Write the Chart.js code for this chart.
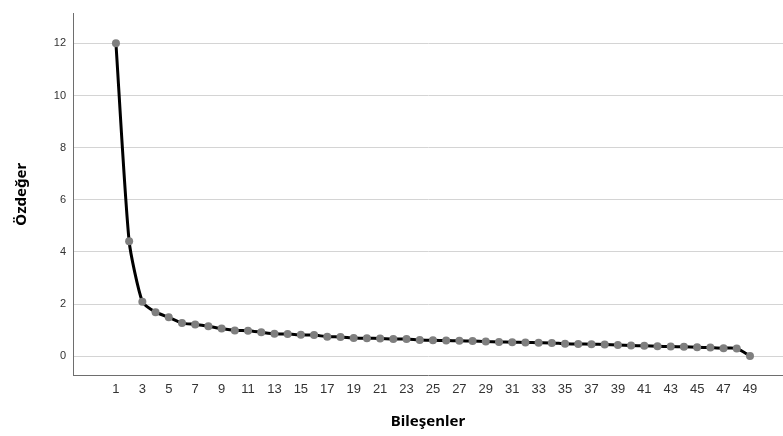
<!DOCTYPE html>
<html>
<head>
<meta charset="utf-8">
<script src="https://cdn.jsdelivr.net/npm/chart.js@4/dist/chart.umd.min.js"></script>
<style>
  html, body { margin: 0; padding: 0; background: #fff; }
  #wrap { width: 783px; height: 436px; position: relative; }
</style>
</head>
<body>
<div id="wrap"><canvas id="myChart"></canvas></div>
<script>
// scree plot data
var components = [];
for (var i = 1; i <= 49; i++) {
    components.push(i);
}

var eigenValues = [
    12.0, 4.41, 2.09, 1.69, 1.49, 1.27, 1.22, 1.15, 1.06, 0.99,
    0.98, 0.92, 0.86, 0.85, 0.82, 0.81, 0.75, 0.74, 0.70, 0.69,
    0.68, 0.66, 0.66, 0.62, 0.61, 0.60, 0.59, 0.58, 0.56, 0.55,
    0.54, 0.53, 0.52, 0.51, 0.48, 0.47, 0.46, 0.45, 0.43, 0.41,
    0.40, 0.38, 0.37, 0.36, 0.34, 0.33, 0.31, 0.30, 0.01
];

var xTicks = [];
for (var i = 1; i <= 49; i += 2) {
    xTicks.push(i);
}
var yTicks = [0, 2, 4, 6, 8, 10, 12];

var xTitle = 'Bileşenler';
var yTitle = 'Özdeğer';

function chartInit() {
    var points = components.map(function (c, idx) {
        return { x: c, y: eigenValues[idx] };
    });

    const config = {
        type: 'line',
        data: {
            datasets: [{
                label: yTitle,
                data: points,
                borderColor: '#000000',
                borderWidth: 3,
                pointRadius: 4,
                pointBorderWidth: 0,
                pointBackgroundColor: '#7f7f7f',
                pointBorderColor: '#7f7f7f',
                tension: 0.2,
                fill: false
            }]
        },
        options: {
            responsive: false,
            animation: false,
            maintainAspectRatio: false,
            layout: { autoPadding: false, padding: { top: 10, right: 0, left: 0, bottom: 0 } },
            plugins: {
                legend: { display: false },
                tooltip: { enabled: false }
            },
            scales: {
                x: {
                    type: 'linear',
                    min: -2.25,
                    max: 51.5,
                    afterBuildTicks: function (scale) {
                        scale.ticks = xTicks.map(function (v) { return { value: v }; });
                    },
                    afterFit: function (scale) { scale.height = 61; },
                    grid: { display: false, drawTicks: false },
                    border: { display: true, color: '#6e6e6e', width: 1 },
                    ticks: {
                        autoSkip: false,
                        maxRotation: 0,
                        padding: 7,
                        color: '#333333',
                        font: { family: 'Liberation Sans', size: 13 }
                    },
                    title: {
                        display: true,
                        text: xTitle,
                        color: '#000000',
                        padding: { top: 5, bottom: 5 },
                        font: { family: 'Noto Sans', size: 15, weight: 'bold' }
                    }
                },
                y: {
                    min: -0.72,
                    max: 13.14,
                    afterBuildTicks: function (scale) {
                        scale.ticks = yTicks.map(function (v) { return { value: v }; });
                    },
                    afterFit: function (scale) { scale.width = 73; },
                    grid: { color: '#d4d4d4', lineWidth: 1, drawTicks: false },
                    border: { display: true, color: '#6e6e6e', width: 1 },
                    ticks: {
                        padding: 7,
                        color: '#333333',
                        font: { family: 'Liberation Sans', size: 11 }
                    },
                    title: {
                        display: true,
                        text: yTitle,
                        color: '#000000',
                        padding: { top: 13, bottom: 13 },
                        font: { family: 'Noto Sans', size: 15, weight: 'bold' }
                    }
                }
            }
        }
    };

    new Chart(document.getElementById('myChart'), config);
}

var cv = document.getElementById('myChart');
cv.width = 783;
cv.height = 436;
cv.style.width = '783px';
cv.style.height = '436px';
chartInit();
</script>
</body>
</html>
